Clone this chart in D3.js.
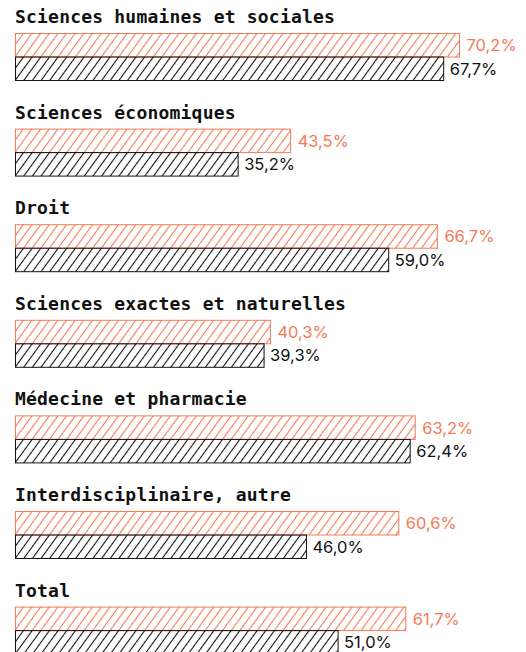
<!DOCTYPE html>
<html>
<head>
<meta charset="utf-8">
<script src="https://cdn.jsdelivr.net/npm/d3@7"></script>
<style>
  html, body { margin: 0; padding: 0; background: #fff; }
  svg { display: block; }
</style>
</head>
<body>
<div id="chart"></div>
<script>
// Categories and the two compared shares (in %)
const categories = [
  "Sciences humaines et sociales",
  "Sciences économiques",
  "Droit",
  "Sciences exactes et naturelles",
  "Médecine et pharmacie",
  "Interdisciplinaire, autre",
  "Total"
];
const seriesOrange = [70.2, 43.5, 66.7, 40.3, 63.2, 60.6, 61.7];
const seriesBlack  = [67.7, 35.2, 59.0, 39.3, 62.4, 46.0, 51.0];

const width = 526, height = 652;
const orange = "#f47a55", dark = "#111";

const svg = d3.select("#chart").append("svg")
  .attr("width", width).attr("height", height);

const defs = svg.append("defs");
function hatch(id, color) {
  const p = defs.append("pattern")
    .attr("id", id)
    .attr("patternUnits", "userSpaceOnUse")
    .attr("width", 7).attr("height", 7)
    .attr("patternTransform", "rotate(36)");
  p.append("line")
    .attr("x1", 3.5).attr("y1", -1).attr("x2", 3.5).attr("y2", 8)
    .attr("stroke", color).attr("stroke-width", 1.1);
}
hatch("hatch-orange", orange);
hatch("hatch-dark", dark);

const x = d3.scaleLinear().domain([0, 100]).range([15.5, 648]);
const y = d3.scaleBand().domain(categories).range([0, 95.6 * categories.length]);

const fmt = v => d3.format(".1f")(v).replace(".", ",") + "%";

const g = svg.selectAll("g.group")
  .data(categories.map((c, i) => ({ c, a: seriesOrange[i], b: seriesBlack[i] })))
  .join("g")
  .attr("class", "group")
  .attr("transform", d => `translate(0,${y(d.c)})`);

g.append("text")
  .attr("x", 15).attr("y", 23)
  .attr("font-family", "'DejaVu Sans Mono', monospace")
  .attr("font-weight", "bold")
  .attr("font-size", 18)
  .attr("letter-spacing", 0.2)
  .attr("fill", "#111")
  .text(d => d.c);

const barH = 23.5;
// orange bar
g.append("rect")
  .attr("x", x(0)).attr("y", 33.5)
  .attr("width", d => x(d.a) - x(0)).attr("height", barH)
  .attr("fill", "url(#hatch-orange)")
  .attr("stroke", orange).attr("stroke-width", 1);
// dark bar
g.append("rect")
  .attr("x", x(0)).attr("y", 33.5 + barH)
  .attr("width", d => x(d.b) - x(0)).attr("height", barH)
  .attr("fill", "url(#hatch-dark)")
  .attr("stroke", dark).attr("stroke-width", 1);

g.append("text")
  .attr("x", d => x(d.a) + 7).attr("y", 33.5 + barH / 2)
  .attr("dy", "0.36em")
  .attr("font-family", "Inter, sans-serif")
  .attr("font-size", 16.5)
  .attr("fill", orange)
  .text(d => fmt(d.a));

g.append("text")
  .attr("x", d => x(d.b) + 6).attr("y", 33.5 + barH * 1.5)
  .attr("dy", "0.36em")
  .attr("font-family", "Inter, sans-serif")
  .attr("font-size", 16.5)
  .attr("fill", "#111")
  .text(d => fmt(d.b));
</script>
</body>
</html>
